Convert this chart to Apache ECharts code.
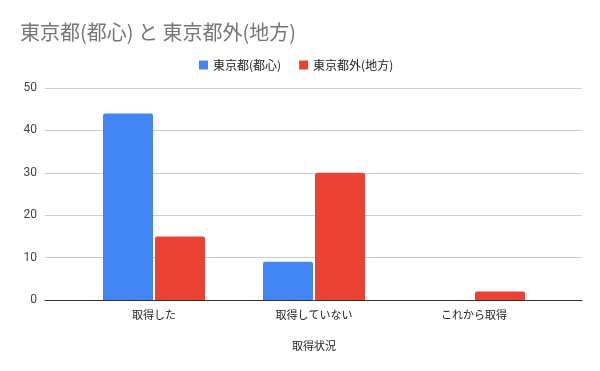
<!DOCTYPE html>
<html><head><meta charset="utf-8">
<script src="https://cdn.jsdelivr.net/npm/echarts@6/dist/echarts.min.js"></script>
<style>html,body{margin:0;padding:0;background:#fff}#c{width:600px;height:371px}</style>
</head><body><div id="c"></div>
<script>
const categories = ['取得した', '取得していない', 'これから取得'];
const seriesNames = ['東京都(都心)', '東京都外(地方)'];
const tokyo = [44, 9, 0];
const outside = [15, 30, 2];
const yTicks = [0, 10, 20, 30, 40, 50];
const titleText = '東京都(都心) と 東京都外(地方)';
const xAxisTitle = '取得状況';

const font = '"Noto Sans CJK JP", Roboto, sans-serif';
const chart = echarts.init(document.getElementById('c'));
chart.setOption({
  animation: false,
  textStyle: { fontFamily: font },
  title: { text: titleText, left: 15, top: 17, textStyle: { fontSize: 20, fontWeight: 'normal', color: '#757575', fontFamily: font } },
  legend: { left: 194, top: 54, itemWidth: 9, itemHeight: 9, itemGap: 18, icon: 'rect',
    textStyle: { fontSize: 12, color: '#222', fontFamily: font } },
  grid: [
    { left: 45, right: 18, top: 88, bottom: 71 },
    { left: 74, right: 46, top: 88, bottom: 71 }
  ],
  xAxis: [
    { type: 'value', gridIndex: 0, min: 0, max: 1, axisLine: { show: true, lineStyle: { color: '#333', width: 1 } },
      axisLabel: { show: false }, axisTick: { show: false }, splitLine: { show: false } },
    { type: 'category', gridIndex: 1, data: categories, axisLine: { show: false }, axisTick: { show: false },
      axisLabel: { margin: 9, fontSize: 11, color: '#222', fontFamily: font },
      name: xAxisTitle, nameLocation: 'middle', nameGap: 40, nameTextStyle: { fontSize: 11, color: '#222', fontFamily: font } }
  ],
  yAxis: [
    { type: 'value', gridIndex: 0, min: yTicks[0], max: yTicks[yTicks.length - 1], interval: yTicks[1] - yTicks[0],
      axisLine: { show: false }, axisTick: { show: false },
      axisLabel: { margin: 8, fontSize: 12, color: '#444', fontFamily: 'Roboto, sans-serif' },
      splitLine: { lineStyle: { color: '#cccccc' } } },
    { type: 'value', gridIndex: 1, min: yTicks[0], max: yTicks[yTicks.length - 1], show: false }
  ],
  series: [
    { name: seriesNames[0], type: 'bar', xAxisIndex: 1, yAxisIndex: 1, data: tokyo, barWidth: 50, barGap: '4%',
      itemStyle: { color: '#4285F4', borderRadius: [2, 2, 0, 0] } },
    { name: seriesNames[1], type: 'bar', xAxisIndex: 1, yAxisIndex: 1, data: outside, barWidth: 50, barGap: '4%',
      itemStyle: { color: '#EA4335', borderRadius: [2, 2, 0, 0] } }
  ]
});
</script></body></html>
